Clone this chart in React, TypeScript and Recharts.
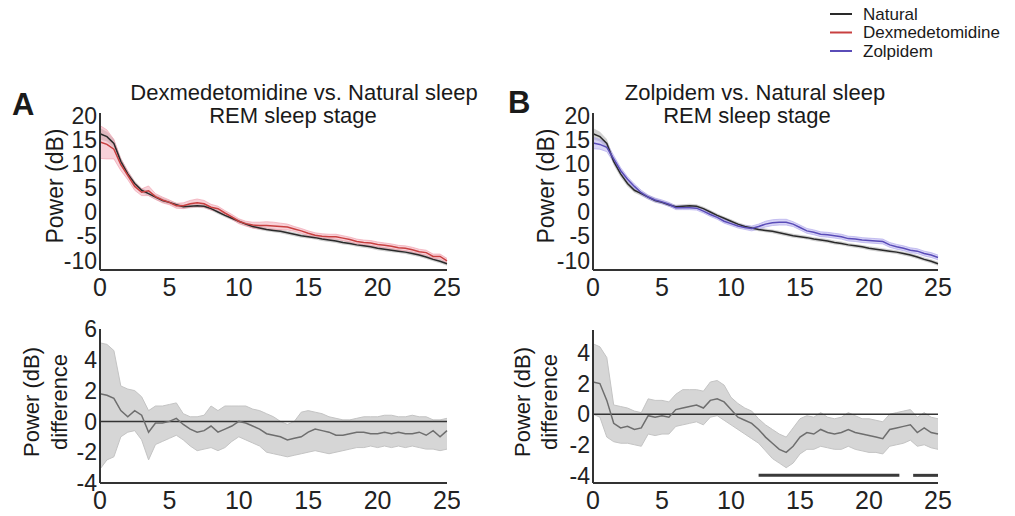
import React from "react";
import {
  ComposedChart,
  Area,
  Line,
  XAxis,
  YAxis,
  ReferenceLine,
} from "recharts";

const FONT = "'Liberation Sans', Arial, sans-serif";

// frequency grid (Hz)
const freqs = [
  0, 0.5, 1, 1.5, 2, 2.5, 3, 3.5, 4, 4.5, 5, 5.5, 6, 6.5, 7, 7.5, 8, 8.5, 9, 9.5,
  10, 10.5, 11, 11.5, 12, 12.5, 13, 13.5, 14, 14.5, 15, 15.5, 16, 16.5, 17, 17.5,
  18, 18.5, 19, 19.5, 20, 20.5, 21, 21.5, 22, 22.5, 23, 23.5, 24, 24.5, 25,
];

// power spectra, dB
const natural = [
  16.2, 15.6, 14.2, 10.5, 7.9, 5.9, 4.5, 3.8, 3.1, 2.4, 2.0, 1.5, 1.1, 1.2, 1.3, 1.2,
  0.7, 0.0, -0.7, -1.3, -1.9, -2.5, -3.0, -3.3, -3.6, -3.8, -4.0, -4.3, -4.6, -4.9,
  -5.1, -5.3, -5.6, -5.8, -6.0, -6.3, -6.5, -6.8, -7.0, -7.2, -7.5, -7.7, -7.9, -8.1,
  -8.3, -8.6, -8.9, -9.3, -9.8, -10.2, -10.7,
];
const naturalSem = [
  1.2, 1.0, 0.9, 0.8, 0.7, 0.6, 0.5, 0.5, 0.5, 0.5, 0.4, 0.4, 0.4, 0.4, 0.4, 0.4,
  0.4, 0.4, 0.4, 0.4, 0.4, 0.4, 0.4, 0.4, 0.4, 0.4, 0.4, 0.4, 0.4, 0.4, 0.4, 0.4,
  0.4, 0.4, 0.4, 0.4, 0.4, 0.4, 0.4, 0.4, 0.4, 0.4, 0.4, 0.4, 0.4, 0.4, 0.4, 0.4,
  0.4, 0.4, 0.4,
];
const dex = [
  14.5, 14.0, 13.0, 9.8, 7.6, 5.3, 4.1, 4.4, 3.2, 2.5, 2.0, 1.3, 1.3, 1.7, 1.9, 1.7,
  1.0, 0.7, -0.2, -1.0, -1.9, -2.4, -2.7, -2.8, -2.8, -2.9, -3.0, -3.1, -3.5, -3.9,
  -4.4, -4.8, -5.0, -5.1, -5.1, -5.4, -5.7, -6.1, -6.3, -6.4, -6.7, -6.9, -7.1, -7.4,
  -7.5, -7.8, -8.2, -8.4, -9.2, -9.2, -10.1,
];
const dexSem = [
  3.4, 3.0, 2.0, 1.2, 0.9, 0.8, 0.7, 1.0, 0.6, 0.6, 0.5, 0.5, 0.6, 0.7, 0.8, 0.7,
  0.6, 0.5, 0.5, 0.5, 0.5, 0.5, 0.6, 0.7, 0.8, 0.8, 0.7, 0.6, 0.5, 0.5, 0.5, 0.5,
  0.5, 0.5, 0.5, 0.5, 0.5, 0.5, 0.5, 0.5, 0.5, 0.5, 0.5, 0.5, 0.5, 0.5, 0.5, 0.5,
  0.5, 0.5, 0.5,
];
const zolpidem = [
  14.3, 14.0, 13.4, 11.0, 8.6, 6.8, 5.3, 4.0, 3.1, 2.5, 2.1, 1.6, 0.9, 0.9, 0.9, 0.8,
  0.2, -0.5, -1.1, -1.9, -2.4, -2.9, -3.2, -3.4, -3.0, -2.5, -2.2, -2.1, -2.1, -2.5,
  -3.2, -3.9, -4.2, -4.6, -4.7, -4.9, -5.1, -5.5, -5.6, -5.8, -5.9, -6.0, -6.1, -6.8,
  -7.2, -7.5, -7.9, -8.1, -8.6, -8.9, -9.4,
];
const zolpidemSem = [
  1.2, 1.0, 0.9, 0.7, 0.6, 0.5, 0.5, 0.5, 0.4, 0.4, 0.4, 0.4, 0.4, 0.4, 0.4, 0.4,
  0.4, 0.4, 0.4, 0.4, 0.4, 0.4, 0.4, 0.5, 0.5, 0.6, 0.6, 0.6, 0.6, 0.5, 0.5, 0.5,
  0.5, 0.5, 0.5, 0.5, 0.5, 0.5, 0.5, 0.5, 0.5, 0.5, 0.5, 0.5, 0.5, 0.5, 0.5, 0.5,
  0.5, 0.5, 0.5,
];

// power difference (natural - drug), dB
const diffDex = [
  1.8, 1.7, 1.5, 0.7, 0.3, 0.7, 0.4, -0.7, -0.1, -0.1, 0.0, 0.2, -0.2, -0.5, -0.7, -0.6,
  -0.3, -0.7, -0.5, -0.3, 0.0, -0.1, -0.3, -0.5, -0.8, -0.9, -1.0, -1.2, -1.1, -1.0,
  -0.7, -0.5, -0.6, -0.7, -0.9, -0.9, -0.8, -0.7, -0.7, -0.8, -0.8, -0.7, -0.8, -0.7,
  -0.8, -0.8, -0.7, -0.9, -0.6, -1.0, -0.6,
];
const diffDexHi = [
  5.1, 5.0, 4.6, 2.3, 2.1, 2.0, 1.6, 0.7, 1.0, 1.0, 1.1, 1.2, 0.5, 0.3, 0.3, 0.4,
  1.0, 0.7, 1.0, 1.0, 1.0, 1.0, 0.8, 0.7, 0.5, 0.3, 0.0, -0.2, 0.0, 0.6, 0.7, 0.6,
  0.5, 0.3, 0.2, 0.1, 0.1, 0.2, 0.3, 0.3, 0.3, 0.4, 0.4, 0.3, 0.3, 0.4, 0.3, 0.3,
  0.1, 0.1, 0.2,
];
const diffDexLo = [
  -3.1, -2.5, -2.3, -1.0, -0.7, -0.6, -1.2, -2.5, -1.5, -1.3, -1.1, -0.9, -1.2, -1.6,
  -1.9, -1.8, -1.7, -1.9, -1.7, -1.3, -1.0, -1.2, -1.4, -1.6, -2.0, -2.1, -2.2, -2.3,
  -2.2, -2.1, -2.0, -1.9, -2.0, -2.1, -2.0, -1.9, -1.8, -1.7, -1.7, -1.6, -1.7, -1.6,
  -1.7, -1.6, -1.7, -1.6, -1.7, -1.8, -1.8, -1.9, -1.8,
];
const diffZol = [
  2.1, 2.0, 0.9, -0.6, -0.9, -0.8, -1.0, -0.9, -0.1, -0.2, -0.1, -0.2, 0.3, 0.4, 0.5,
  0.6, 0.4, 0.9, 1.0, 0.8, 0.3, -0.2, -0.4, -0.6, -1.0, -1.5, -1.9, -2.3, -2.5, -2.1,
  -1.5, -1.2, -1.3, -1.0, -1.2, -1.3, -1.2, -1.0, -1.2, -1.3, -1.4, -1.5, -1.6, -1.0,
  -0.9, -0.8, -0.7, -1.2, -0.9, -1.2, -1.3,
];
const diffZolHi = [
  4.6, 4.4, 3.7, 0.6, 0.5, 0.4, 0.2, 0.1, 1.0, 0.9, 0.9, 0.8, 1.3, 1.6, 1.6, 1.6, 1.5,
  2.1, 2.2, 1.9, 1.1, 0.7, 0.4, 0.2, -0.3, -0.7, -1.0, -1.3, -1.5, -0.9, -0.3, -0.1,
  -0.2, 0.1, -0.2, -0.3, -0.2, 0.1, -0.1, -0.3, -0.3, -0.4, -0.5, 0.0, 0.1, 0.2, 0.3,
  -0.2, 0.1, -0.2, -0.3,
];
const diffZolLo = [
  0.0, -0.2, -1.5, -1.8, -1.9, -1.9, -2.0, -2.1, -1.3, -1.4, -1.3, -1.3, -0.8, -0.7,
  -0.6, -0.5, -0.7, -0.2, -0.1, -0.4, -0.7, -1.0, -1.3, -1.6, -1.9, -2.4, -2.9, -3.2,
  -3.5, -3.2, -2.6, -2.3, -2.3, -2.1, -2.2, -2.3, -2.3, -2.1, -2.3, -2.4, -2.5, -2.5,
  -2.6, -2.1, -2.0, -1.9, -1.7, -2.1, -2.0, -2.2, -2.3,
];

// frequency ranges with significant difference (zolpidem)
const sigRanges = [
  [12, 22.2],
  [23.2, 25],
];

const xTicks = [0, 5, 10, 15, 20, 25];
const powerTicks = [-10, -5, 0, 5, 10, 15, 20];
const diffTicksA = [-4, -2, 0, 2, 4, 6];
const diffTicksB = [-4, -2, 0, 2, 4];

const legendItems = [
  { name: "Natural", color: "#2a2a2a" },
  { name: "Dexmedetomidine", color: "#c84040" },
  { name: "Zolpidem", color: "#5a4cb8" },
];

const specRows = (drug: number[], drugSem: number[]) =>
  freqs.map((f, i) => ({
    f,
    nat: natural[i],
    natBand: [natural[i] - naturalSem[i], natural[i] + naturalSem[i]],
    drug: drug[i],
    drugBand: [drug[i] - drugSem[i], drug[i] + drugSem[i]],
  }));

const diffRows = (mean: number[], lo: number[], hi: number[]) =>
  freqs.map((f, i) => ({ f, diff: mean[i], band: [lo[i], hi[i]] }));

const axisLine = { stroke: "#333", strokeWidth: 2 };
const xTickStyle = { fontSize: 25, fill: "#222", fontFamily: FONT };
const yTickStyle = { fontSize: 23, fill: "#222", fontFamily: FONT };

function SpectrumPanel({ rows, color, bandColor, right }: any) {
  return (
    <ComposedChart
      width={460}
      height={210}
      data={rows}
      margin={{ top: 13, right, left: 60, bottom: 10 }}
    >
      <XAxis
        type="number"
        dataKey="f"
        domain={[0, 25]}
        ticks={xTicks}
        interval={0}
        tickLine={false}
        tickSize={0}
        tickMargin={8}
        height={30}
        axisLine={axisLine}
        tick={xTickStyle}
      />
      <YAxis
        type="number"
        domain={[-12, 20.5]}
        ticks={powerTicks}
        interval={0}
        allowDataOverflow
        tickLine={false}
        tickSize={0}
        tickMargin={3}
        width={40}
        axisLine={axisLine}
        tick={yTickStyle}
      />
      <Area
        dataKey="natBand"
        type="linear"
        stroke="none"
        fill="#9a9a9a"
        fillOpacity={0.45}
        isAnimationActive={false}
      />
      <Area
        dataKey="drugBand"
        type="linear"
        stroke={bandColor}
        strokeOpacity={0.6}
        fill={bandColor}
        fillOpacity={0.45}
        isAnimationActive={false}
      />
      <Line
        dataKey="nat"
        type="linear"
        stroke="#2a2a2a"
        strokeWidth={1.5}
        dot={false}
        isAnimationActive={false}
      />
      <Line
        dataKey="drug"
        type="linear"
        stroke={color}
        strokeWidth={1.5}
        dot={false}
        isAnimationActive={false}
      />
    </ComposedChart>
  );
}

function DiffPanel({ rows, domain, ticks, right, top, height, sig }: any) {
  return (
    <ComposedChart
      width={460}
      height={height}
      data={rows}
      margin={{ top, right, left: 60, bottom: 10 }}
    >
      <XAxis
        type="number"
        dataKey="f"
        domain={[0, 25]}
        ticks={xTicks}
        interval={0}
        tickLine={false}
        tickSize={0}
        tickMargin={8}
        height={30}
        axisLine={axisLine}
        tick={xTickStyle}
      />
      <YAxis
        type="number"
        domain={domain}
        ticks={ticks}
        interval={0}
        allowDataOverflow
        tickLine={false}
        tickSize={0}
        tickMargin={3}
        width={40}
        axisLine={axisLine}
        tick={yTickStyle}
      />
      <Area
        dataKey="band"
        type="linear"
        stroke="#c4c4c4"
        fill="#d6d6d6"
        fillOpacity={1}
        isAnimationActive={false}
      />
      <ReferenceLine y={0} stroke="#333" strokeWidth={1.5} />
      <Line
        dataKey="diff"
        type="linear"
        stroke="#6e6e6e"
        strokeWidth={1.5}
        dot={false}
        isAnimationActive={false}
      />
      {sig &&
        sig.map((r: number[], i: number) => (
          <ReferenceLine
            key={i}
            segment={[
              { x: r[0], y: -4 },
              { x: r[1], y: -4 },
            ]}
            stroke="#3a3a3a"
            strokeWidth={3}
          />
        ))}
    </ComposedChart>
  );
}

export default function App() {
  const abs = (left: number, top: number): React.CSSProperties => ({
    position: "absolute",
    left,
    top,
  });
  return (
    <div
      style={{
        position: "absolute",
        left: 0,
        top: 0,
        width: 1015,
        height: 516,
        background: "#fff",
        fontFamily: FONT,
      }}
    >
      <div style={abs(0, 100)}>
        <SpectrumPanel
          rows={specRows(dex, dexSem)}
          color="#c84040"
          bandColor="#ef9aa8"
          right={13}
        />
      </div>
      <div style={abs(493, 100)}>
        <SpectrumPanel
          rows={specRows(zolpidem, zolpidemSem)}
          color="#5a4cb8"
          bandColor="#a9a0ea"
          right={15}
        />
      </div>
      <div style={abs(0, 305)}>
        <DiffPanel
          rows={diffRows(diffDex, diffDexLo, diffDexHi)}
          domain={[-4, 6]}
          ticks={diffTicksA}
          right={13}
          top={24}
          height={218}
        />
      </div>
      <div style={abs(493, 306)}>
        <DiffPanel
          rows={diffRows(diffZol, diffZolLo, diffZolHi)}
          domain={[-4.5, 5.5]}
          ticks={diffTicksB}
          right={15}
          top={24}
          height={217}
          sig={sigRanges}
        />
      </div>
      <svg
        width={1015}
        height={516}
        style={{ position: "absolute", left: 0, top: 0, pointerEvents: "none" }}
        fontFamily={FONT}
        fill="#1a1a1a"
      >
        <text x={12} y={115} fontSize={31} fontWeight="bold">A</text>
        <text x={508} y={113} fontSize={31} fontWeight="bold">B</text>
        <text x={304} y={100} fontSize={22} textAnchor="middle">
          Dexmedetomidine vs. Natural sleep
        </text>
        <text x={293} y={123} fontSize={22} textAnchor="middle">
          REM sleep stage
        </text>
        <text x={755} y={100} fontSize={22} textAnchor="middle">
          Zolpidem vs. Natural sleep
        </text>
        <text x={747} y={123} fontSize={22} textAnchor="middle">
          REM sleep stage
        </text>
        {[
          { x: 55, y: 186, t: "Power (dB)", s: 23 },
          { x: 546, y: 186, t: "Power (dB)", s: 23 },
          { x: 31, y: 402, t: "Power (dB)", s: 22 },
          { x: 59, y: 402, t: "difference", s: 22 },
          { x: 522, y: 402, t: "Power (dB)", s: 22 },
          { x: 549, y: 402, t: "difference", s: 22 },
        ].map((l, i) => (
          <text
            key={i}
            x={l.x}
            y={l.y}
            fontSize={l.s}
            textAnchor="middle"
            dominantBaseline="central"
            transform={`rotate(-90 ${l.x} ${l.y})`}
          >
            {l.t}
          </text>
        ))}
        {legendItems.map((it, i) => (
          <g key={it.name}>
            <line
              x1={830}
              x2={852}
              y1={14 + i * 18.5}
              y2={14 + i * 18.5}
              stroke={it.color}
              strokeWidth={2}
            />
            <text x={863} y={14 + i * 18.5} fontSize={17} dominantBaseline="central">
              {it.name}
            </text>
          </g>
        ))}
      </svg>
    </div>
  );
}
